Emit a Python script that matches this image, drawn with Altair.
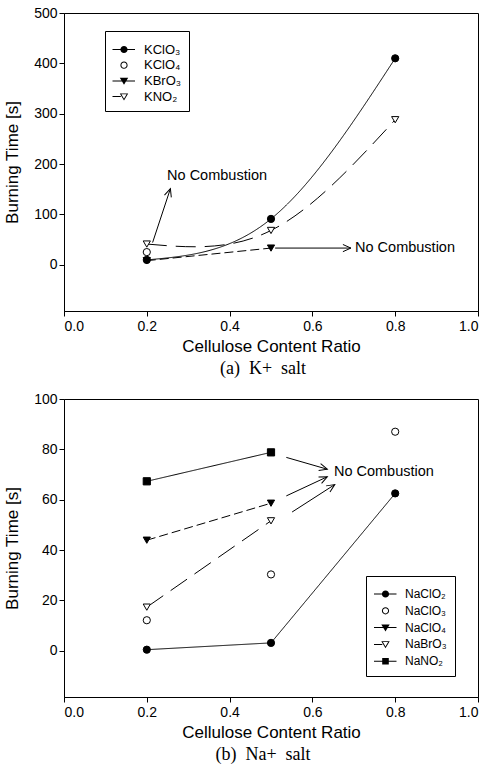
import math
import altair as alt
import pandas as pd

FONT = "Liberation Sans"
SERIF = "Liberation Serif"
W, H = 414, 298

# ---------------- panel (a): K+ salts ----------------
k_series = ["KClO₃", "KClO₄", "KBrO₃", "KNO₂"]
k_x = [0.2, 0.5, 0.8]
kclo3 = [9.5, 91, 410]
kclo4_x = [0.2]
kclo4 = [25]
kbro3_x = [0.2, 0.5]
kbro3 = [8, 33]
kno2 = [41, 68, 288]
k_line_series = ["KClO₃", "KBrO₃", "KNO₂"]
k_ydomain = [-92, 500]
k_yticks = [0, 100, 200, 300, 400, 500]

k_arrow_x = [0.214, 0.51]
k_arrow_y = [44, 33]
k_arrow_x2 = [0.257, 0.693]
k_arrow_y2 = [151, 33]
k_note_x = [0.249, 0.703]
k_note_y = [177, 33]

# ---------------- panel (b): Na+ salts ----------------
na_series = ["NaClO₂", "NaClO₃", "NaClO₄", "NaBrO₃", "NaNO₂"]
na_x = [0.2, 0.5, 0.8]
naclo2 = [0.4, 3.1, 62.5]
naclo3 = [12.1, 30.3, 87]
naclo4_x = [0.2, 0.5]
naclo4 = [43.9, 58.6]
nabro3_x = [0.2, 0.5]
nabro3 = [17.3, 51.6]
nano2_x = [0.2, 0.5]
nano2 = [67.3, 78.8]
na_line_series = ["NaClO₂", "NaClO₄", "NaBrO₃", "NaNO₂"]
na_ydomain = [-18.4, 100]
na_yticks = [0, 20, 40, 60, 80, 100]

na_arrow_x = [0.537, 0.537, 0.551]
na_arrow_y = [76.8, 61.5, 55.1]
na_arrow_x2 = [0.636, 0.636, 0.654]
na_arrow_y2 = [72.1, 69.1, 66.0]
na_note_x = [0.652]
na_note_y = [71.0]

x_ticks = [0.0, 0.2, 0.4, 0.6, 0.8, 1.0]
NOTE = "No Combustion"


def rows(name, xs, ys):
    return [{"x": a, "y": b, "series": name} for a, b in zip(xs, ys)]


k_pts = pd.DataFrame(
    rows("KClO₃", k_x, kclo3) + rows("KClO₄", kclo4_x, kclo4)
    + rows("KBrO₃", kbro3_x, kbro3) + rows("KNO₂", k_x, kno2)
)
na_pts = pd.DataFrame(
    rows("NaClO₂", na_x, naclo2) + rows("NaClO₃", na_x, naclo3)
    + rows("NaClO₄", naclo4_x, naclo4) + rows("NaBrO₃", nabro3_x, nabro3)
    + rows("NaNO₂", nano2_x, nano2)
)


# ------------- legend symbol paths (line + marker), pixel based -------------
U = 5.0  # px per path unit for symbolSize 100


def fmt(v):
    return f"{v / U:.3f}"


def rect(x0, x1, t=0.5):
    return f"M{fmt(x0)},{fmt(-t)}L{fmt(x1)},{fmt(-t)}L{fmt(x1)},{fmt(t)}L{fmt(x0)},{fmt(t)}Z"


def circ(cx, r, cw=True):
    s = 1 if cw else 0
    return (f"M{fmt(cx + r)},0A{fmt(r)},{fmt(r)} 0 1,{s} {fmt(cx - r)},0"
            f"A{fmt(r)},{fmt(r)} 0 1,{s} {fmt(cx + r)},0Z")


def tri(cx, k=1.0, rev=False):
    pts = [(-4.2, -3.2), (4.2, -3.2), (0, 3.9)]
    cy = sum(p[1] for p in pts) / 3
    pts = [(cx + px * k, cy + (py - cy) * k) for px, py in pts]
    if rev:
        pts = [pts[0], pts[2], pts[1]]
    return "M" + "L".join(f"{fmt(a)},{fmt(b)}" for a, b in pts) + "Z"


def sq(cx, h=3.3):
    return f"M{fmt(cx - h)},{fmt(-h)}L{fmt(cx + h)},{fmt(-h)}L{fmt(cx + h)},{fmt(h)}L{fmt(cx - h)},{fmt(h)}Z"


L0, L1, MC = -6.0, 16.5, 5.5   # line start/end and marker centre (px from symbol centre)
P_FCIRC = rect(L0, L1) + circ(MC, 3.6)
P_OCIRC = circ(MC, 3.6) + circ(MC, 2.6, cw=False)
P_FTRI = rect(L0, L1) + tri(MC)
P_OTRI = rect(L0, MC - 3.2) + tri(MC) + tri(MC, 0.62, rev=True)
P_FSQ = rect(L0, L1) + sq(MC)

ARROW = "M-1,-0.45L0,0L-1,0.45"


def panel(pts, line_series, dashes, interp, series, shapes, fills, legend_paths,
          ydomain, yticks, ax, ay, ax2, ay2, nx, ny, legend_xy, legend_pad,
          legend_rowpad, legend_titlepad, legend_fs, caption):
    xs = alt.Scale(domain=[0, 1], nice=False, zero=False)
    ys = alt.Scale(domain=ydomain, nice=False, zero=False)
    X = alt.X("x:Q", scale=xs, title="Cellulose Content Ratio",
              axis=alt.Axis(values=x_ticks, format=".1f", labelPadding=3, titlePadding=5))
    Y = alt.Y("y:Q", scale=ys, title="Burning Time [s]",
              axis=alt.Axis(values=yticks, format="d", labelPadding=2, titlePadding=12))

    kx = W / 1.0
    ky = H / (ydomain[1] - ydomain[0])
    arrows = pd.DataFrame({"x": ax, "y": ay, "x2": ax2, "y2": ay2})
    arrows["angle"] = [
        math.degrees(math.atan2(-(b2 - b) * ky, (a2 - a) * kx)) % 360
        for a, b, a2, b2 in zip(ax, ay, ax2, ay2)
    ]
    notes = pd.DataFrame({"x": nx, "y": ny, "text": [NOTE] * len(nx)})

    lines = alt.Chart(pts[pts["series"].isin(line_series)]).mark_line(
        color="black", strokeWidth=1, interpolate=interp
    ).encode(
        x=X, y=Y,
        strokeDash=alt.StrokeDash("series:N", scale=alt.Scale(domain=line_series, range=dashes), legend=None),
    )
    points = alt.Chart(pts).mark_point(
        filled=False, stroke="black", strokeWidth=1, size=52, opacity=1
    ).encode(
        x=X, y=Y,
        shape=alt.Shape("series:N", scale=alt.Scale(domain=series, range=shapes), legend=None),
        fill=alt.Fill("series:N", scale=alt.Scale(domain=series, range=fills), legend=None),
    )
    legend_layer = alt.Chart(pts).mark_point(
        filled=True, color="black", opacity=0, strokeWidth=0
    ).encode(
        x=X, y=Y,
        shape=alt.Shape(
            "series:N",
            scale=alt.Scale(domain=series, range=legend_paths),
            legend=alt.Legend(
                title=" ", titleFontSize=1, titlePadding=legend_titlepad,
                orient="none", legendX=legend_xy[0], legendY=legend_xy[1],
                padding=legend_pad, rowPadding=legend_rowpad,
                labelFont=FONT, labelFontSize=legend_fs, labelColor="black", labelOffset=19,
                symbolSize=100, symbolStrokeWidth=0, symbolOpacity=1,
                symbolFillColor="black", strokeColor="black", fillColor="white",
            ),
        ),
    )
    rules = alt.Chart(arrows).mark_rule(color="black", strokeWidth=1).encode(
        x=X, y=Y, x2="x2:Q", y2="y2:Q"
    )
    heads = alt.Chart(arrows).mark_point(
        shape=ARROW, filled=False, stroke="black", strokeWidth=1, size=256, opacity=1
    ).encode(
        x=alt.X("x2:Q", scale=xs), y=alt.Y("y2:Q", scale=ys),
        angle=alt.Angle("angle:Q", scale=None),
    )
    texts = alt.Chart(notes).mark_text(
        align="left", baseline="middle", font=FONT, fontSize=14.5, color="black"
    ).encode(x=X, y=Y, text="text:N")

    return alt.layer(lines, rules, heads, points, legend_layer, texts).resolve_scale(
        shape="independent"
    ).properties(
        width=W, height=H,
        title=alt.TitleParams(caption, orient="bottom", font=SERIF, fontSize=18,
                              fontWeight="normal", color="black", dx=-8, offset=6),
    )


top = panel(
    k_pts, k_line_series, [[1, 0], [9, 4], [20, 9]], "natural",
    k_series, ["circle", "circle", "triangle-down", "triangle-down"],
    ["black", "white", "black", "white"],
    [P_FCIRC, P_OCIRC, P_FTRI, P_OTRI],
    k_ydomain, k_yticks, k_arrow_x, k_arrow_y, k_arrow_x2, k_arrow_y2,
    k_note_x, k_note_y, (41, 18), 7, 1.7, 4, 13, "(a)\u00a0\u00a0K+\u00a0\u00a0salt",
)
bottom = panel(
    na_pts, na_line_series, [[1, 0], [9, 4], [16, 11], [1, 0]], "linear",
    na_series, ["circle", "circle", "triangle-down", "triangle-down", "square"],
    ["black", "white", "black", "white", "black"],
    [P_FCIRC, P_OCIRC, P_FTRI, P_OTRI, P_FSQ],
    na_ydomain, na_yticks, na_arrow_x, na_arrow_y, na_arrow_x2, na_arrow_y2,
    na_note_x, na_note_y, (302, 177), 8, 4.8, 3, 12, "(b)\u00a0\u00a0Na+\u00a0\u00a0salt",
)

chart = alt.vconcat(top, bottom, spacing=12).properties(
    padding={"left": 3, "top": 5, "right": 5, "bottom": 0},
    background="white",
).configure_view(
    stroke="black", strokeWidth=1
).configure_axis(
    labelFont=FONT, titleFont=FONT, labelFontSize=14, titleFontSize=17,
    titleFontWeight="normal", labelColor="black", titleColor="black",
    domainColor="black", tickColor="black", tickSize=5, grid=False,
    domainWidth=1, tickWidth=1,
)

chart.save("out.html", embed_options={"renderer": "svg", "actions": False})
